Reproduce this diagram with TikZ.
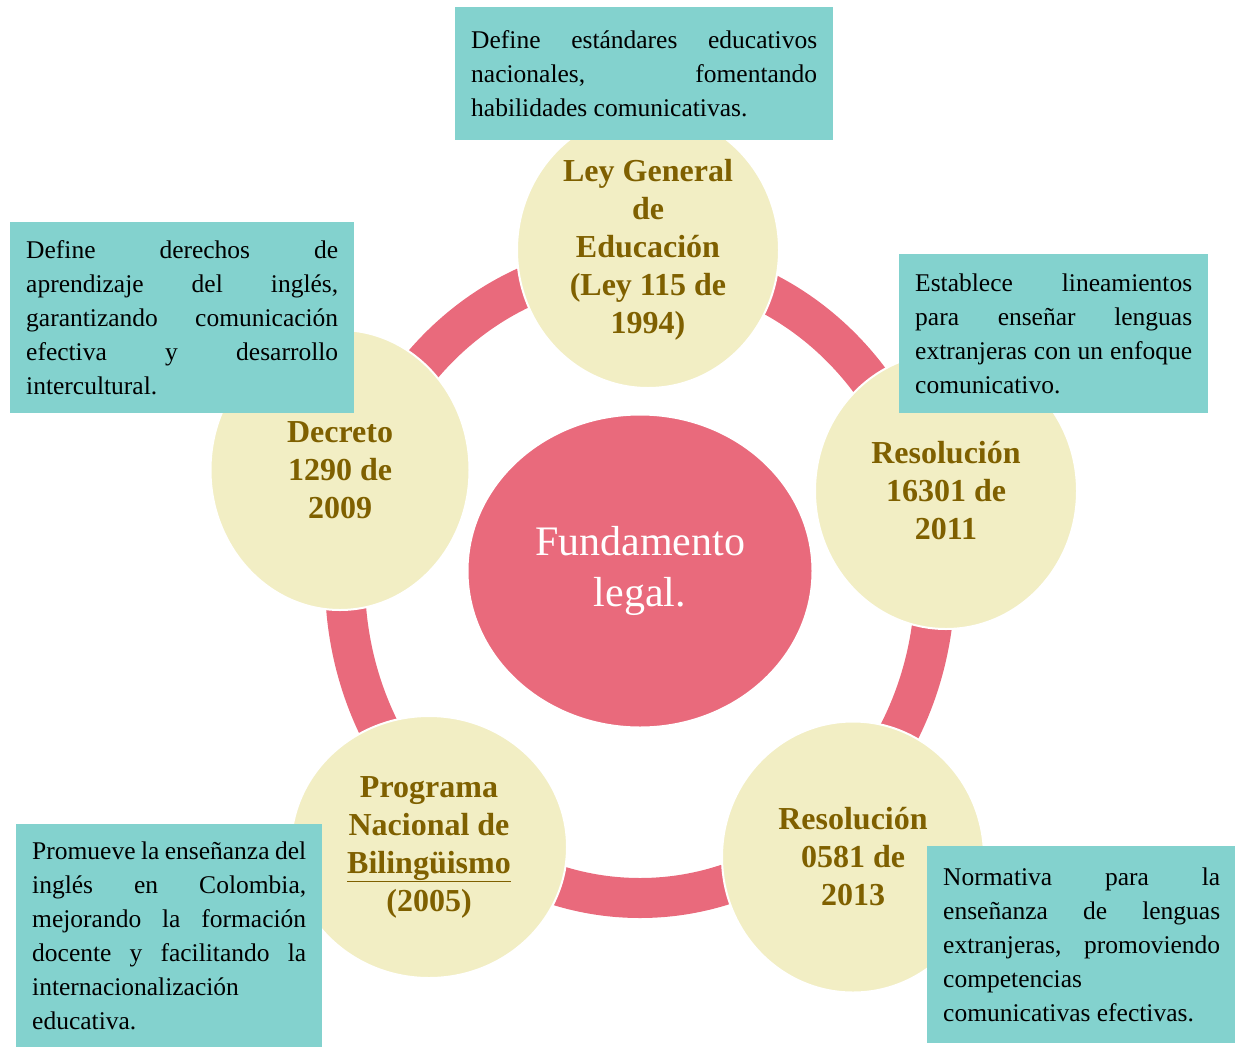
\documentclass[tikz,border=0pt]{standalone}
\usepackage{fontspec}
\setmainfont{Liberation Serif}
\usetikzlibrary{shapes.geometric}
\definecolor{rosa}{RGB}{233,106,124}
\definecolor{crema}{RGB}{242,238,196}
\definecolor{turquesa}{RGB}{131,210,206}
\definecolor{oliva}{RGB}{127,96,0}
\tolerance=10000
\hyphenpenalty=10000
\tikzset{
  hito/.style={ellipse, fill=crema, draw=white, line width=2pt, minimum width=262pt, minimum height=276pt,
    inner sep=0pt, align=center, text=oliva, font=\bfseries\fontsize{32}{38}\selectfont},
  nota/.style={rectangle, fill=turquesa, anchor=north west, inner xsep=16pt, inner ysep=0pt, align=justify,
    font=\fontsize{25.5}{34}\selectfont},
}
\begin{document}
\begin{tikzpicture}[x=1pt,y=-1pt]
	\useasboundingbox (0,0) rectangle (1235,1047);
	\coordinate (anillo) at (640,580);
	\draw[rosa, line width=40pt] (anillo) ellipse [x radius=295, y radius=318];
	\node[ellipse, fill=rosa, draw=white, line width=2pt, minimum width=345pt, minimum height=313pt, text=white,
	  align=center, font=\fontsize{42}{51}\selectfont] (centro) at (640,571) {Fundamento\\legal.};

	\node[hito] (ley) at (648,250) {Ley General\\de\\Educación\\(Ley 115 de\\1994)};
	\node[hito] (r16) at (946,491) {Resolución\\16301 de\\2011};
	\node[hito, minimum height=271pt] (r05) at (853,857) {Resolución\\0581 de\\2013};
	\node[hito, minimum width=276pt, minimum height=262pt] (pnb) at (429,847) {Programa\\Nacional de\\\underline{Bilingüismo}\\(2005)};
	\node[hito, minimum width=259pt, minimum height=280pt] (dec) at (340,470) {Decreto\\1290 de\\2009};

	\node[nota, text width=346pt, minimum height=133pt] (nley) at (455,7)
	  {Define estándares educativos\linebreak nacionales, fomentando\linebreak habilidades comunicativas.};
	\node[nota, text width=312pt, minimum height=191pt] (ndec) at (10,222)
	  {Define derechos de\linebreak aprendizaje del inglés,\linebreak garantizando comunicación\linebreak efectiva y desarrollo\linebreak intercultural.};
	\node[nota, text width=277pt, minimum height=159pt] (nr16) at (899,254)
	  {Establece lineamientos\linebreak para enseñar lenguas\linebreak extranjeras con un enfoque\linebreak comunicativo.};
	\node[nota, text width=274pt, minimum height=223pt] (npnb) at (16,824)
	  {Promueve la enseñanza del\linebreak inglés en Colombia,\linebreak mejorando la formación\linebreak docente y facilitando la\linebreak internacionalización\newline educativa.};
	\node[nota, text width=277pt, minimum height=197pt] (nr05) at (927,846)
	  {Normativa para la\linebreak enseñanza de lenguas\linebreak extranjeras, promoviendo\linebreak competencias\newline comunicativas efectivas.};
\end{tikzpicture}
\end{document}
